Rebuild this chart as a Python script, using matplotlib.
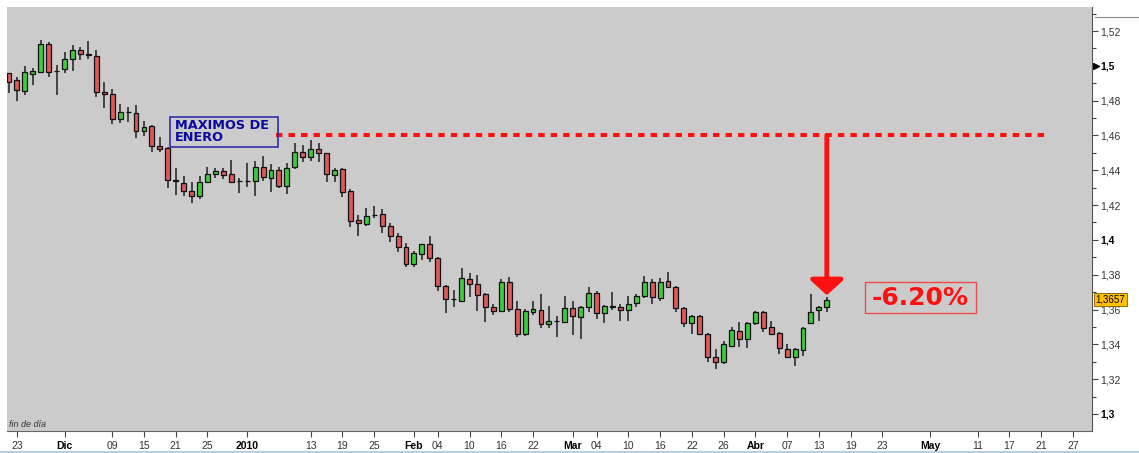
import numpy as np
import pandas as pd
import matplotlib
matplotlib.use('Agg')
import matplotlib.pyplot as plt
from matplotlib.lines import Line2D
from matplotlib.patches import Rectangle
from matplotlib.ticker import MultipleLocator, FuncFormatter
from matplotlib.transforms import blended_transform_factory

plt.rcParams['font.family'] = ['Liberation Sans', 'DejaVu Sans']

# EUR/USD daily candles, 20-nov-2009 .. 14-abr-2010 (one per weekday)
first_day = '2009-11-20'
opens = [1.4957, 1.4919, 1.4857, 1.4955, 1.4964, 1.5125, 1.4970, 1.4980, 1.5037, 1.5091,
         1.5066, 1.5058, 1.4848, 1.4838, 1.4693, 1.4737, 1.4731, 1.4625, 1.4656, 1.4541,
         1.4526, 1.4342, 1.4329, 1.4283, 1.4254, 1.4334, 1.4376, 1.4396, 1.4377, 1.4338,
         1.4338, 1.4340, 1.4421, 1.4357, 1.4402, 1.4311, 1.4417, 1.4507, 1.4475, 1.4521,
         1.4498, 1.4373, 1.4406, 1.4281, 1.4114, 1.4091, 1.4143, 1.4149, 1.4082, 1.4024,
         1.3961, 1.3860, 1.3917, 1.3975, 1.3898, 1.3737, 1.3659, 1.3649, 1.3776, 1.3745,
         1.3688, 1.3616, 1.3593, 1.3757, 1.3603, 1.3460, 1.3588, 1.3597, 1.3517, 1.3534,
         1.3530, 1.3611, 1.3556, 1.3616, 1.3693, 1.3578, 1.3616, 1.3613, 1.3600, 1.3636,
         1.3680, 1.3757, 1.3668, 1.3764, 1.3731, 1.3607, 1.3525, 1.3563, 1.3460, 1.3326,
         1.3297, 1.3393, 1.3479, 1.3429, 1.3521, 1.3584, 1.3498, 1.3464, 1.3374, 1.3326,
         1.3368, 1.3521, 1.3599, 1.3613]
highs = [1.4960, 1.4938, 1.5000, 1.4989, 1.5148, 1.5139, 1.5005, 1.5081, 1.5120, 1.5110,
         1.5144, 1.5091, 1.4905, 1.4865, 1.4781, 1.4762, 1.4775, 1.4685, 1.4658, 1.4589,
         1.4532, 1.4411, 1.4369, 1.4331, 1.4369, 1.4417, 1.4415, 1.4411, 1.4459, 1.4357,
         1.4440, 1.4455, 1.4482, 1.4436, 1.4417, 1.4440, 1.4555, 1.4545, 1.4574, 1.4555,
         1.4501, 1.4411, 1.4411, 1.4291, 1.4143, 1.4182, 1.4195, 1.4178, 1.4095, 1.4038,
         1.3981, 1.3938, 1.3978, 1.4022, 1.3904, 1.3741, 1.3712, 1.3840, 1.3812, 1.3799,
         1.3693, 1.3632, 1.3776, 1.3785, 1.3651, 1.3603, 1.3651, 1.3689, 1.3620, 1.3565,
         1.3678, 1.3651, 1.3620, 1.3731, 1.3707, 1.3626, 1.3703, 1.3630, 1.3678, 1.3688,
         1.3795, 1.3776, 1.3780, 1.3814, 1.3735, 1.3616, 1.3569, 1.3569, 1.3464, 1.3374,
         1.3419, 1.3502, 1.3530, 1.3530, 1.3592, 1.3592, 1.3536, 1.3470, 1.3400, 1.3378,
         1.3502, 1.3689, 1.3622, 1.3674]
lows = [1.4842, 1.4798, 1.4832, 1.4890, 1.4960, 1.4938, 1.4832, 1.4960, 1.4970, 1.5033,
        1.5037, 1.4819, 1.4756, 1.4666, 1.4673, 1.4679, 1.4584, 1.4597, 1.4503, 1.4503,
        1.4300, 1.4258, 1.4254, 1.4214, 1.4233, 1.4325, 1.4357, 1.4350, 1.4325, 1.4268,
        1.4302, 1.4252, 1.4340, 1.4277, 1.4297, 1.4262, 1.4407, 1.4450, 1.4455, 1.4446,
        1.4334, 1.4331, 1.4248, 1.4076, 1.4022, 1.4082, 1.4124, 1.4038, 1.3990, 1.3932,
        1.3846, 1.3846, 1.3885, 1.3875, 1.3708, 1.3578, 1.3616, 1.3642, 1.3674, 1.3592,
        1.3527, 1.3569, 1.3584, 1.3584, 1.3441, 1.3450, 1.3569, 1.3492, 1.3496, 1.3444,
        1.3527, 1.3454, 1.3431, 1.3584, 1.3546, 1.3525, 1.3597, 1.3534, 1.3536, 1.3613,
        1.3665, 1.3632, 1.3649, 1.3722, 1.3584, 1.3498, 1.3458, 1.3454, 1.3301, 1.3259,
        1.3286, 1.3389, 1.3387, 1.3378, 1.3511, 1.3470, 1.3454, 1.3345, 1.3320, 1.3276,
        1.3335, 1.3517, 1.3536, 1.3588]
closes = [1.4909, 1.4861, 1.4963, 1.4970, 1.5125, 1.4964, 1.4968, 1.5039, 1.5091, 1.5066,
          1.5064, 1.4848, 1.4838, 1.4693, 1.4735, 1.4736, 1.4627, 1.4650, 1.4541, 1.4522,
          1.4344, 1.4338, 1.4283, 1.4252, 1.4334, 1.4379, 1.4396, 1.4373, 1.4334, 1.4337,
          1.4339, 1.4421, 1.4363, 1.4402, 1.4311, 1.4411, 1.4507, 1.4475, 1.4521, 1.4498,
          1.4377, 1.4402, 1.4277, 1.4110, 1.4095, 1.4137, 1.4144, 1.4082, 1.4022, 1.3958,
          1.3860, 1.3923, 1.3975, 1.3894, 1.3735, 1.3659, 1.3658, 1.3780, 1.3745, 1.3684,
          1.3613, 1.3593, 1.3757, 1.3603, 1.3460, 1.3592, 1.3601, 1.3517, 1.3536, 1.3533,
          1.3611, 1.3565, 1.3616, 1.3697, 1.3578, 1.3620, 1.3617, 1.3597, 1.3633, 1.3680,
          1.3757, 1.3671, 1.3760, 1.3731, 1.3607, 1.3525, 1.3563, 1.3460, 1.3326, 1.3297,
          1.3400, 1.3483, 1.3429, 1.3521, 1.3584, 1.3496, 1.3460, 1.3378, 1.3326, 1.3372,
          1.3492, 1.3588, 1.3613, 1.3657]

tick_dates = ['2009-11-23', '2009-12-01', '2009-12-09', '2009-12-15', '2009-12-21',
              '2009-12-25', '2010-01-01', '2010-01-13', '2010-01-19', '2010-01-25',
              '2010-02-01', '2010-02-04', '2010-02-10', '2010-02-16', '2010-02-22',
              '2010-03-01', '2010-03-04', '2010-03-10', '2010-03-16', '2010-03-22',
              '2010-03-26', '2010-04-01', '2010-04-07', '2010-04-13', '2010-04-19',
              '2010-04-23', '2010-05-03', '2010-05-11', '2010-05-17', '2010-05-21',
              '2010-05-27']
tick_labels = ['23', 'Dic', '09', '15', '21', '25', '2010', '13', '19', '25',
               'Feb', '04', '10', '16', '22', 'Mar', '04', '10', '16', '22', '26',
               'Abr', '07', '13', '19', '23', 'May', '11', '17', '21', '27']
month_labels = ['Dic', '2010', 'Feb', 'Mar', 'Abr', 'May']

jan_high = 1.46
jan_line_from = '2010-01-07'
jan_line_to = '2010-05-21'
last_price = 1.3657
arrow_tip = 1.3682
drop_text = '-6.20%'

calendar = pd.bdate_range(first_day, periods=140)
x = np.arange(len(opens))
o, h, l, c = map(np.array, (opens, highs, lows, closes))
up = c >= o

fig = plt.figure(figsize=(11.39, 4.53), dpi=100)
ax = fig.add_axes([7 / 1139, 22 / 453, 1085 / 1139, 424 / 453])
ax.set_facecolor('#cbcbcb')

# candles
ax.vlines(x, l, h, color='#1e1e1e', lw=1.1, zorder=2)
body_low = np.minimum(o, c)
body_h = np.maximum(np.abs(c - o), 0.00015)
ax.bar(x, body_h, bottom=body_low, width=0.62,
       color=np.where(up, '#3ccc3c', '#dc5a5a'), edgecolor='#111111', lw=0.9, zorder=3)

# january high level and drop arrow
x0 = calendar.get_loc(pd.Timestamp(jan_line_from)) - 0.4
x1 = calendar.get_loc(pd.Timestamp(jan_line_to)) + 0.5
ax.hlines(jan_high, x0, x1, colors='#ff1010', lw=2.9, linestyles=(0, (1.6, 1.5)), zorder=4)
ax.annotate('', xy=(x[-1], arrow_tip), xytext=(x[-1], jan_high),
            arrowprops=dict(arrowstyle='-|>,head_width=0.68,head_length=0.62', color='#ff1010',
                            lw=3.5, mutation_scale=15, shrinkA=0, shrinkB=0), zorder=5)

ax.add_patch(Rectangle((0.150, 0.670), 0.100, 0.071, transform=ax.transAxes,
                       fill=False, ec='#2f2fa8', lw=1.2, zorder=5))
ax.text(0.1545, 0.7055, 'MAXIMOS DE\nENERO', transform=ax.transAxes, ha='left', va='center',
        family='DejaVu Sans', fontweight='bold', fontsize=9.3, color='#0a0aa0',
        linespacing=0.88, zorder=6)

ax.add_patch(Rectangle((0.791, 0.278), 0.102, 0.073, transform=ax.transAxes,
                       fill=False, ec='#ee4a4a', lw=1.0, zorder=5))
ax.text(0.842, 0.3145, drop_text, transform=ax.transAxes, ha='center', va='center',
        family='DejaVu Sans', fontweight='bold', fontsize=18, color='#ff1010', zorder=6)

ax.text(0.002, 0.004, 'fin de día', transform=ax.transAxes, ha='left', va='bottom',
        fontsize=6.5, style='italic', color='#333333')

# axes
ax.set_xlim(-0.25, 136.4)
ax.set_ylim(1.2902, 1.5338)
for side in ('left', 'top'):
    ax.spines[side].set_visible(False)
ax.spines['right'].set_color('#555555')
ax.spines['bottom'].set_color('#666666')

ax.yaxis.tick_right()
ax.yaxis.set_major_locator(MultipleLocator(0.02))
ax.yaxis.set_minor_locator(MultipleLocator(0.01))
ax.yaxis.set_major_formatter(FuncFormatter(lambda v, p: ('%g' % round(v, 4)).replace('.', ',')))
ax.tick_params(axis='y', which='major', direction='out', length=4, width=0.8, color='#444444',
               labelsize=7.5, labelcolor='#333333', pad=2)
ax.tick_params(axis='y', which='minor', direction='out', length=3, width=0.8, color='#444444')

tick_pos = [calendar.get_loc(pd.Timestamp(d)) for d in tick_dates]
ax.set_xticks(tick_pos)
ax.set_xticklabels(tick_labels)
ax.tick_params(axis='x', direction='out', length=4, width=0.8, color='#444444',
               labelsize=7.5, labelcolor='#333333', pad=3)
fig.canvas.draw()
for t in ax.get_xticklabels():
    if t.get_text() in month_labels:
        t.set_fontweight('bold')
        t.set_color('black')
for t in ax.get_yticklabels():
    if len(t.get_text()) == 3:
        t.set_fontweight('bold')
        t.set_color('black')

# last price tag and marker on the right scale
right_tr = blended_transform_factory(ax.transAxes, ax.transData)
ax.text(1.0035, last_price, ('%.4f' % last_price).replace('.', ','), transform=right_tr,
        ha='left', va='center', fontsize=7, color='black', clip_on=False, zorder=10,
        bbox=dict(boxstyle='square,pad=0.15', fc='#ffc000', ec='#7a5c00', lw=0.6))
ax.plot([1.004], [1.5], marker='>', ms=4.5, color='black', transform=right_tr, clip_on=False)

fig.add_artist(Line2D([1095 / 1139, 1], [1 - 17 / 453] * 2, color='#8a8a8a', lw=0.8))
fig.add_artist(Line2D([0, 1], [1 - 451.5 / 453] * 2, color='#b6d0dc', lw=1.5))

fig.savefig('out.png', dpi=100)
